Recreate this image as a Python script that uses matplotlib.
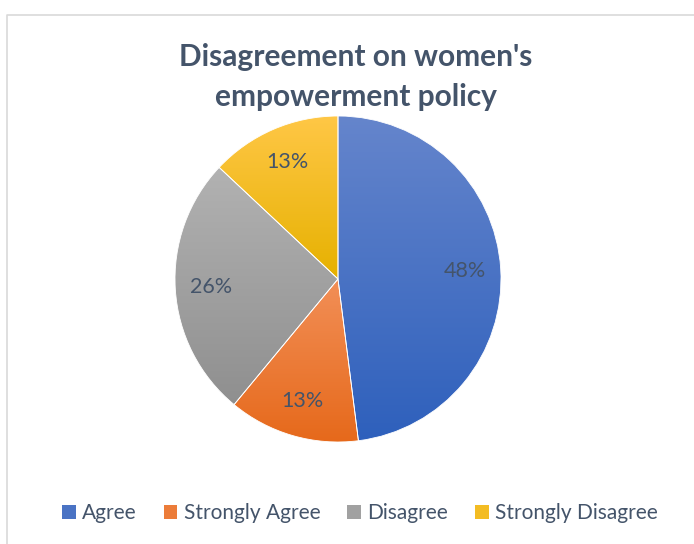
import numpy as np
import matplotlib.pyplot as plt
from matplotlib.colors import to_rgb
from matplotlib.patches import Rectangle

labels = ['Agree', 'Strongly Agree', 'Disagree', 'Strongly Disagree']
shares = [48, 13, 26, 13]
top_colors = ['#6585CC', '#F28F57', '#B2B2B2', '#FFC746']
bottom_colors = ['#2E60BC', '#E6691B', '#8F8F8F', '#E6B100']
title = "Disagreement on women's\nempowerment policy"
text_color = '#44546A'

plt.rcParams['font.family'] = ['Lato', 'DejaVu Sans']

fig = plt.figure(figsize=(6.94, 5.44), dpi=100)
ax = fig.add_axes([0, 0, 1, 1])
ax.set_axis_off()

# chart frame (only top and left edges visible)
ax.plot([7, 7, 700], [-5, 529, 529], color='#D9D9D9', lw=1.2)

wedges, texts, autotexts = ax.pie(
    shares, center=(338, 265), radius=163, startangle=90, counterclock=False,
    autopct='%1.0f%%', pctdistance=0.78,
    wedgeprops=dict(edgecolor='white', linewidth=0.6),
    textprops=dict(color=text_color, fontsize=15.5))

# vertical gradient inside each slice
for w, c0, c1 in zip(wedges, top_colors, bottom_colors):
    ext = w.get_path().get_extents()
    t = np.linspace(0, 1, 256)[:, None, None]
    grad = (1 - t) * np.array(to_rgb(c0)) + t * np.array(to_rgb(c1))
    im = ax.imshow(grad, extent=(ext.x0, ext.x1, ext.y0, ext.y1),
                   origin='upper', aspect='auto', zorder=w.get_zorder())
    im.set_clip_path(w)
    w.set_facecolor('none')
    w.set_zorder(im.get_zorder() + 0.1)
for t in autotexts:
    t.set_zorder(5)

ax.text(356, 544 - 77, title, ha='center', va='center', fontsize=21.5,
        fontweight='bold', color=text_color, linespacing=1.5)

handles = [Rectangle((0, 0), 1, 1, facecolor=c) for c in
           [(np.array(to_rgb(a)) + np.array(to_rgb(b))) / 2
            for a, b in zip(top_colors, bottom_colors)]]
ax.legend(handles, labels, ncol=4, loc='center', bbox_to_anchor=(360, 31),
          bbox_transform=ax.transData, frameon=False, fontsize=15,
          labelcolor=text_color, handlelength=0.65, handleheight=0.65,
          handletextpad=0.3, columnspacing=1.3)

ax.set_xlim(0, 694)
ax.set_ylim(0, 544)
ax.set_aspect('equal')

fig.savefig('out.png', dpi=100, facecolor='white')
